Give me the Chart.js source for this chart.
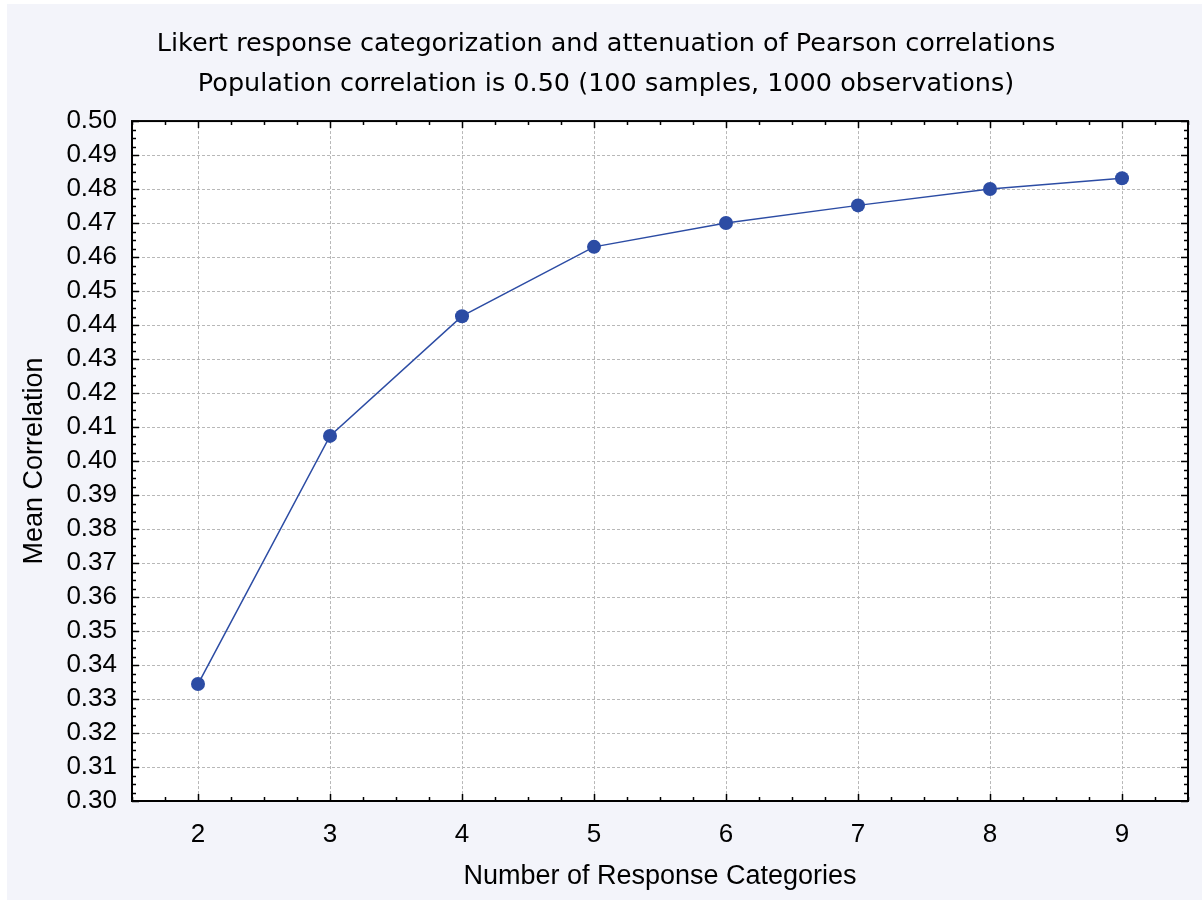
<!DOCTYPE html>
<html>
<head>
<meta charset="utf-8">
<script src="https://cdn.jsdelivr.net/npm/chart.js@4.4.1/dist/chart.umd.min.js"></script>
<style>
  html, body { margin: 0; padding: 0; background: #ffffff; }
  #wrap { position: absolute; left: 7px; top: 4px; width: 1195px; height: 896px; background: #f3f4fa; }
</style>
</head>
<body>
<div id="wrap"><canvas id="likertChart" width="1195" height="896"></canvas></div>
<script>
// number of response categories and mean correlation
var categories = [2, 3, 4, 5, 6, 7, 8, 9];
var meanCorrelation = [0.3344, 0.4074, 0.4426, 0.4630, 0.4700, 0.4752, 0.4800, 0.4832];
var titleLines = [
    'Likert response categorization and attenuation of Pearson correlations',
    'Population correlation is 0.50 (100 samples, 1000 observations)'
];
var xRange = [1.5, 9.5];
var yRange = [0.30, 0.50];

var lineColor = '#2c4ca4';
var gridColor = '#b8b8b8';

// white plot area, inward tick marks on all four sides and the black frame
var frameTicks = {
    id: 'frameTicks',
    beforeDraw: function (chart) {
        var a = chart.chartArea, ctx = chart.ctx;
        ctx.save();
        ctx.fillStyle = '#ffffff';
        ctx.fillRect(a.left, a.top, a.right - a.left, a.bottom - a.top);
        ctx.restore();
    },
    afterDraw: function (chart) {
        var a = chart.chartArea, ctx = chart.ctx;
        var xs = chart.scales.x, ys = chart.scales.y;
        ctx.save();
        ctx.strokeStyle = '#000000';
        ctx.lineWidth = 1.5;
        ctx.beginPath();
        var i, v, p, len;
        var nx = Math.round((xRange[1] - xRange[0]) / 0.25);
        for (i = 0; i <= nx; i++) {
            v = xRange[0] + i * 0.25;
            p = Math.round(xs.getPixelForValue(v)) + 0.5;
            len = Math.abs(v - Math.round(v)) < 1e-6 ? 7 : 4;
            ctx.moveTo(p, a.bottom); ctx.lineTo(p, a.bottom - len);
            ctx.moveTo(p, a.top); ctx.lineTo(p, a.top + len);
        }
        var ny = Math.round((yRange[1] - yRange[0]) / 0.0025);
        for (i = 0; i <= ny; i++) {
            v = yRange[0] + i * 0.0025;
            p = Math.round(ys.getPixelForValue(v)) + 0.5;
            len = (i % 4 === 0) ? 7 : 4;
            ctx.moveTo(a.left, p); ctx.lineTo(a.left + len, p);
            ctx.moveTo(a.right, p); ctx.lineTo(a.right - len, p);
        }
        ctx.stroke();
        ctx.lineWidth = 2;
        ctx.strokeRect(a.left, a.top, a.right - a.left, a.bottom - a.top);
        ctx.restore();
    }
};

var ctx = document.getElementById('likertChart').getContext('2d');
var likertChart = new Chart(ctx, {
    type: 'line',
    data: {
        datasets: [{
            label: 'Mean Correlation',
            data: categories.map(function (c, i) { return { x: c, y: meanCorrelation[i] }; }),
            borderColor: lineColor,
            backgroundColor: lineColor,
            borderWidth: 1.5,
            pointRadius: 7,
            pointHoverRadius: 7,
            pointBorderWidth: 0,
            fill: false,
            tension: 0
        }]
    },
    plugins: [frameTicks],
    options: {
        responsive: false,
        animation: false,
        events: [],
        layout: { padding: { left: 17, right: 14, top: 0, bottom: 0 } },
        plugins: {
            legend: { display: false },
            tooltip: { enabled: false },
            title: {
                display: true,
                text: titleLines,
                color: '#000000',
                font: { family: '"DejaVu Sans", Verdana, sans-serif', size: 25.5, weight: 'normal', lineHeight: 1.57 },
                padding: { top: 20, bottom: 17 }
            }
        },
        scales: {
            x: {
                type: 'linear',
                min: xRange[0],
                max: xRange[1],
                afterBuildTicks: function (scale) {
                    scale.ticks = categories.map(function (c) { return { value: c }; });
                },
                afterFit: function (scale) { scale.height = 99; },
                grid: { color: gridColor, lineWidth: 1, drawTicks: false },
                border: { display: false, dash: [3, 2] },
                ticks: {
                    color: '#000000',
                    padding: 18,
                    maxRotation: 0,
                    autoSkip: false,
                    font: { family: '"Liberation Sans", Arial, sans-serif', size: 26 }
                },
                title: {
                    display: true,
                    text: 'Number of Response Categories',
                    color: '#000000',
                    font: { family: '"Liberation Sans", Arial, sans-serif', size: 27 },
                    padding: { top: 0, bottom: 7 }
                }
            },
            y: {
                type: 'linear',
                min: yRange[0],
                max: yRange[1],
                afterFit: function (scale) { scale.width = 108; },
                grid: { color: gridColor, lineWidth: 1, drawTicks: false },
                border: { display: false, dash: [3, 2] },
                ticks: {
                    stepSize: 0.01,
                    autoSkip: false,
                    color: '#000000',
                    padding: 15,
                    font: { family: '"Liberation Sans", Arial, sans-serif', size: 26, lineHeight: 1 },
                    callback: function (v) { return v.toFixed(2); }
                },
                title: {
                    display: true,
                    text: 'Mean Correlation',
                    color: '#000000',
                    font: { family: '"Liberation Sans", Arial, sans-serif', size: 27, lineHeight: 0.5 },
                    padding: { top: 4, bottom: 0 }
                }
            }
        }
    }
});
</script>
</body>
</html>
